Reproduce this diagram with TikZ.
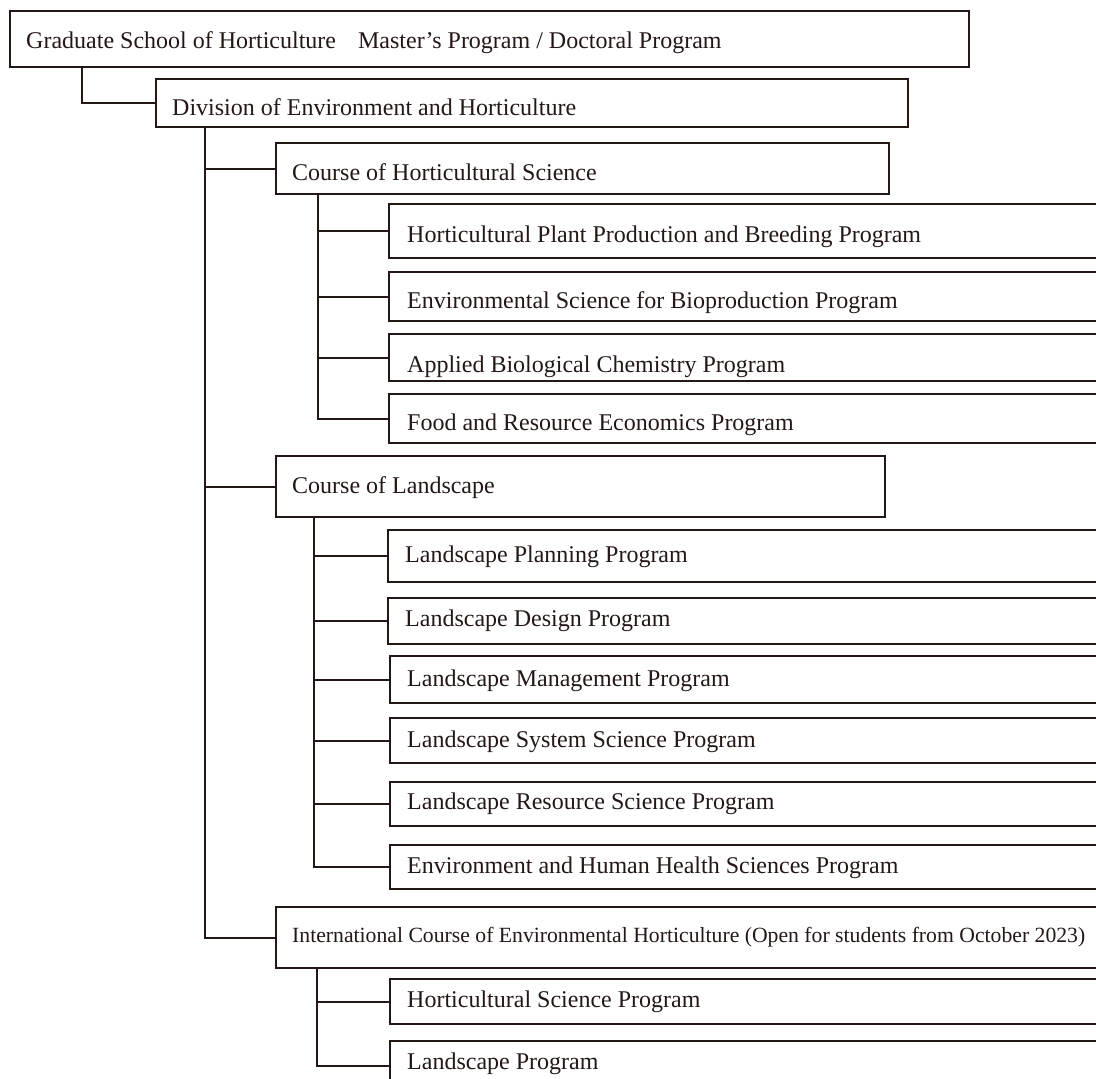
\documentclass[tikz,border=0pt]{standalone}
\usepackage{fontspec}
\setmainfont{Liberation Serif}
\usepackage{tikz}
\usetikzlibrary{positioning}
\definecolor{inkdark}{RGB}{35,24,21}

\begin{document}
\begin{tikzpicture}[x=1pt, y=-1pt,
    box/.style={draw=inkdark, line width=2.2pt, anchor=north west, inner sep=0pt},
    lbl/.style={anchor=base west, inner sep=0pt, text=inkdark, font=\fontsize{24}{28}\selectfont},
    lblsmall/.style={lbl, font=\fontsize{21.7}{26}\selectfont},
    link/.style={draw=inkdark, line width=2pt}]
    \useasboundingbox (0,0) rectangle (1096,1079);
    \clip (0,0) rectangle (1096,1079);

    % School
    \node[box, minimum width=959pt, minimum height=56pt] (grad) at (9,10) {};
    \node[lbl] (gradtxt) at (26,48) {Graduate School of Horticulture\hspace{22pt}Master's Program / Doctoral Program};

    % Division
    \node[box, minimum width=752pt, minimum height=48pt] (div) at (155,78) {};
    \node[lbl] (divtxt) at (172,115) {Division of Environment and Horticulture};

    % Courses
    \node[box, minimum width=613pt, minimum height=51pt] (chort) at (275,142) {};
    \node[lbl] (chorttxt) at (292,180) {Course of Horticultural Science};
    \node[box, minimum width=609pt, minimum height=61pt] (cland) at (275,455) {};
    \node[lbl] (clandtxt) at (292,493) {Course of Landscape};
    \node[box, minimum width=900pt, minimum height=61pt] (intl) at (275,906) {};
    \node[lblsmall] (intltxt) at (292,942) {International Course of Environmental Horticulture (Open for students from October 2023)};

    % Programs of horticultural science
    \node[box, minimum width=800pt, minimum height=54pt] (p1) at (388,203) {};
    \node[lbl] (p1txt) at (407,242) {Horticultural Plant Production and Breeding Program};
    \node[box, minimum width=800pt, minimum height=49pt] (p2) at (388,271) {};
    \node[lbl] (p2txt) at (407,308) {Environmental Science for Bioproduction Program};
    \node[box, minimum width=800pt, minimum height=47pt] (p3) at (388,333) {};
    \node[lbl] (p3txt) at (407,372) {Applied Biological Chemistry Program};
    \node[box, minimum width=800pt, minimum height=49pt] (p4) at (388,393) {};
    \node[lbl] (p4txt) at (407,430) {Food and Resource Economics Program};

    % Programs of landscape
    \node[box, minimum width=800pt, minimum height=52pt] (l1) at (387,529) {};
    \node[lbl] (l1txt) at (405,562) {Landscape Planning Program};
    \node[box, minimum width=800pt, minimum height=46pt] (l2) at (387,597) {};
    \node[lbl] (l2txt) at (405,626) {Landscape Design Program};
    \node[box, minimum width=800pt, minimum height=47pt] (l3) at (389,655) {};
    \node[lbl] (l3txt) at (407,686) {Landscape Management Program};
    \node[box, minimum width=800pt, minimum height=45pt] (l4) at (389,717) {};
    \node[lbl] (l4txt) at (407,747) {Landscape System Science Program};
    \node[box, minimum width=800pt, minimum height=44pt] (l5) at (389,781) {};
    \node[lbl] (l5txt) at (407,809) {Landscape Resource Science Program};
    \node[box, minimum width=800pt, minimum height=44pt] (l6) at (389,844) {};
    \node[lbl] (l6txt) at (407,873) {Environment and Human Health Sciences Program};

    % Programs of the international course
    \node[box, minimum width=800pt, minimum height=45pt] (i1) at (389,978) {};
    \node[lbl] (i1txt) at (407,1007) {Horticultural Science Program};
    \node[box, minimum width=800pt, minimum height=50pt] (i2) at (389,1040) {};
    \node[lbl] (i2txt) at (407,1069) {Landscape Program};

    % Tree lines
    \coordinate (gradleg) at (82,66);
    \coordinate (divleg) at (205,126);
    \coordinate (hortleg) at (318,193);
    \coordinate (landleg) at (314,516);
    \coordinate (intlleg) at (317,967);

    \draw[link] (gradleg) |- (div.west);

    \draw[link] (divleg) |- (intl.west);
    \draw[link] (divleg |- chort.west) -- (chort.west);
    \draw[link] (divleg |- cland.west) -- (cland.west);

    \draw[link] (hortleg) |- (p4.west);
    \foreach \p in {p1,p2,p3}
        \draw[link] (hortleg |- \p.west) -- (\p.west);

    \draw[link] (landleg) |- (l6.west);
    \foreach \p in {l1,l2,l3,l4,l5}
        \draw[link] (landleg |- \p.west) -- (\p.west);

    \draw[link] (intlleg) |- (i2.west);
    \draw[link] (intlleg |- i1.west) -- (i1.west);
\end{tikzpicture}
\end{document}
